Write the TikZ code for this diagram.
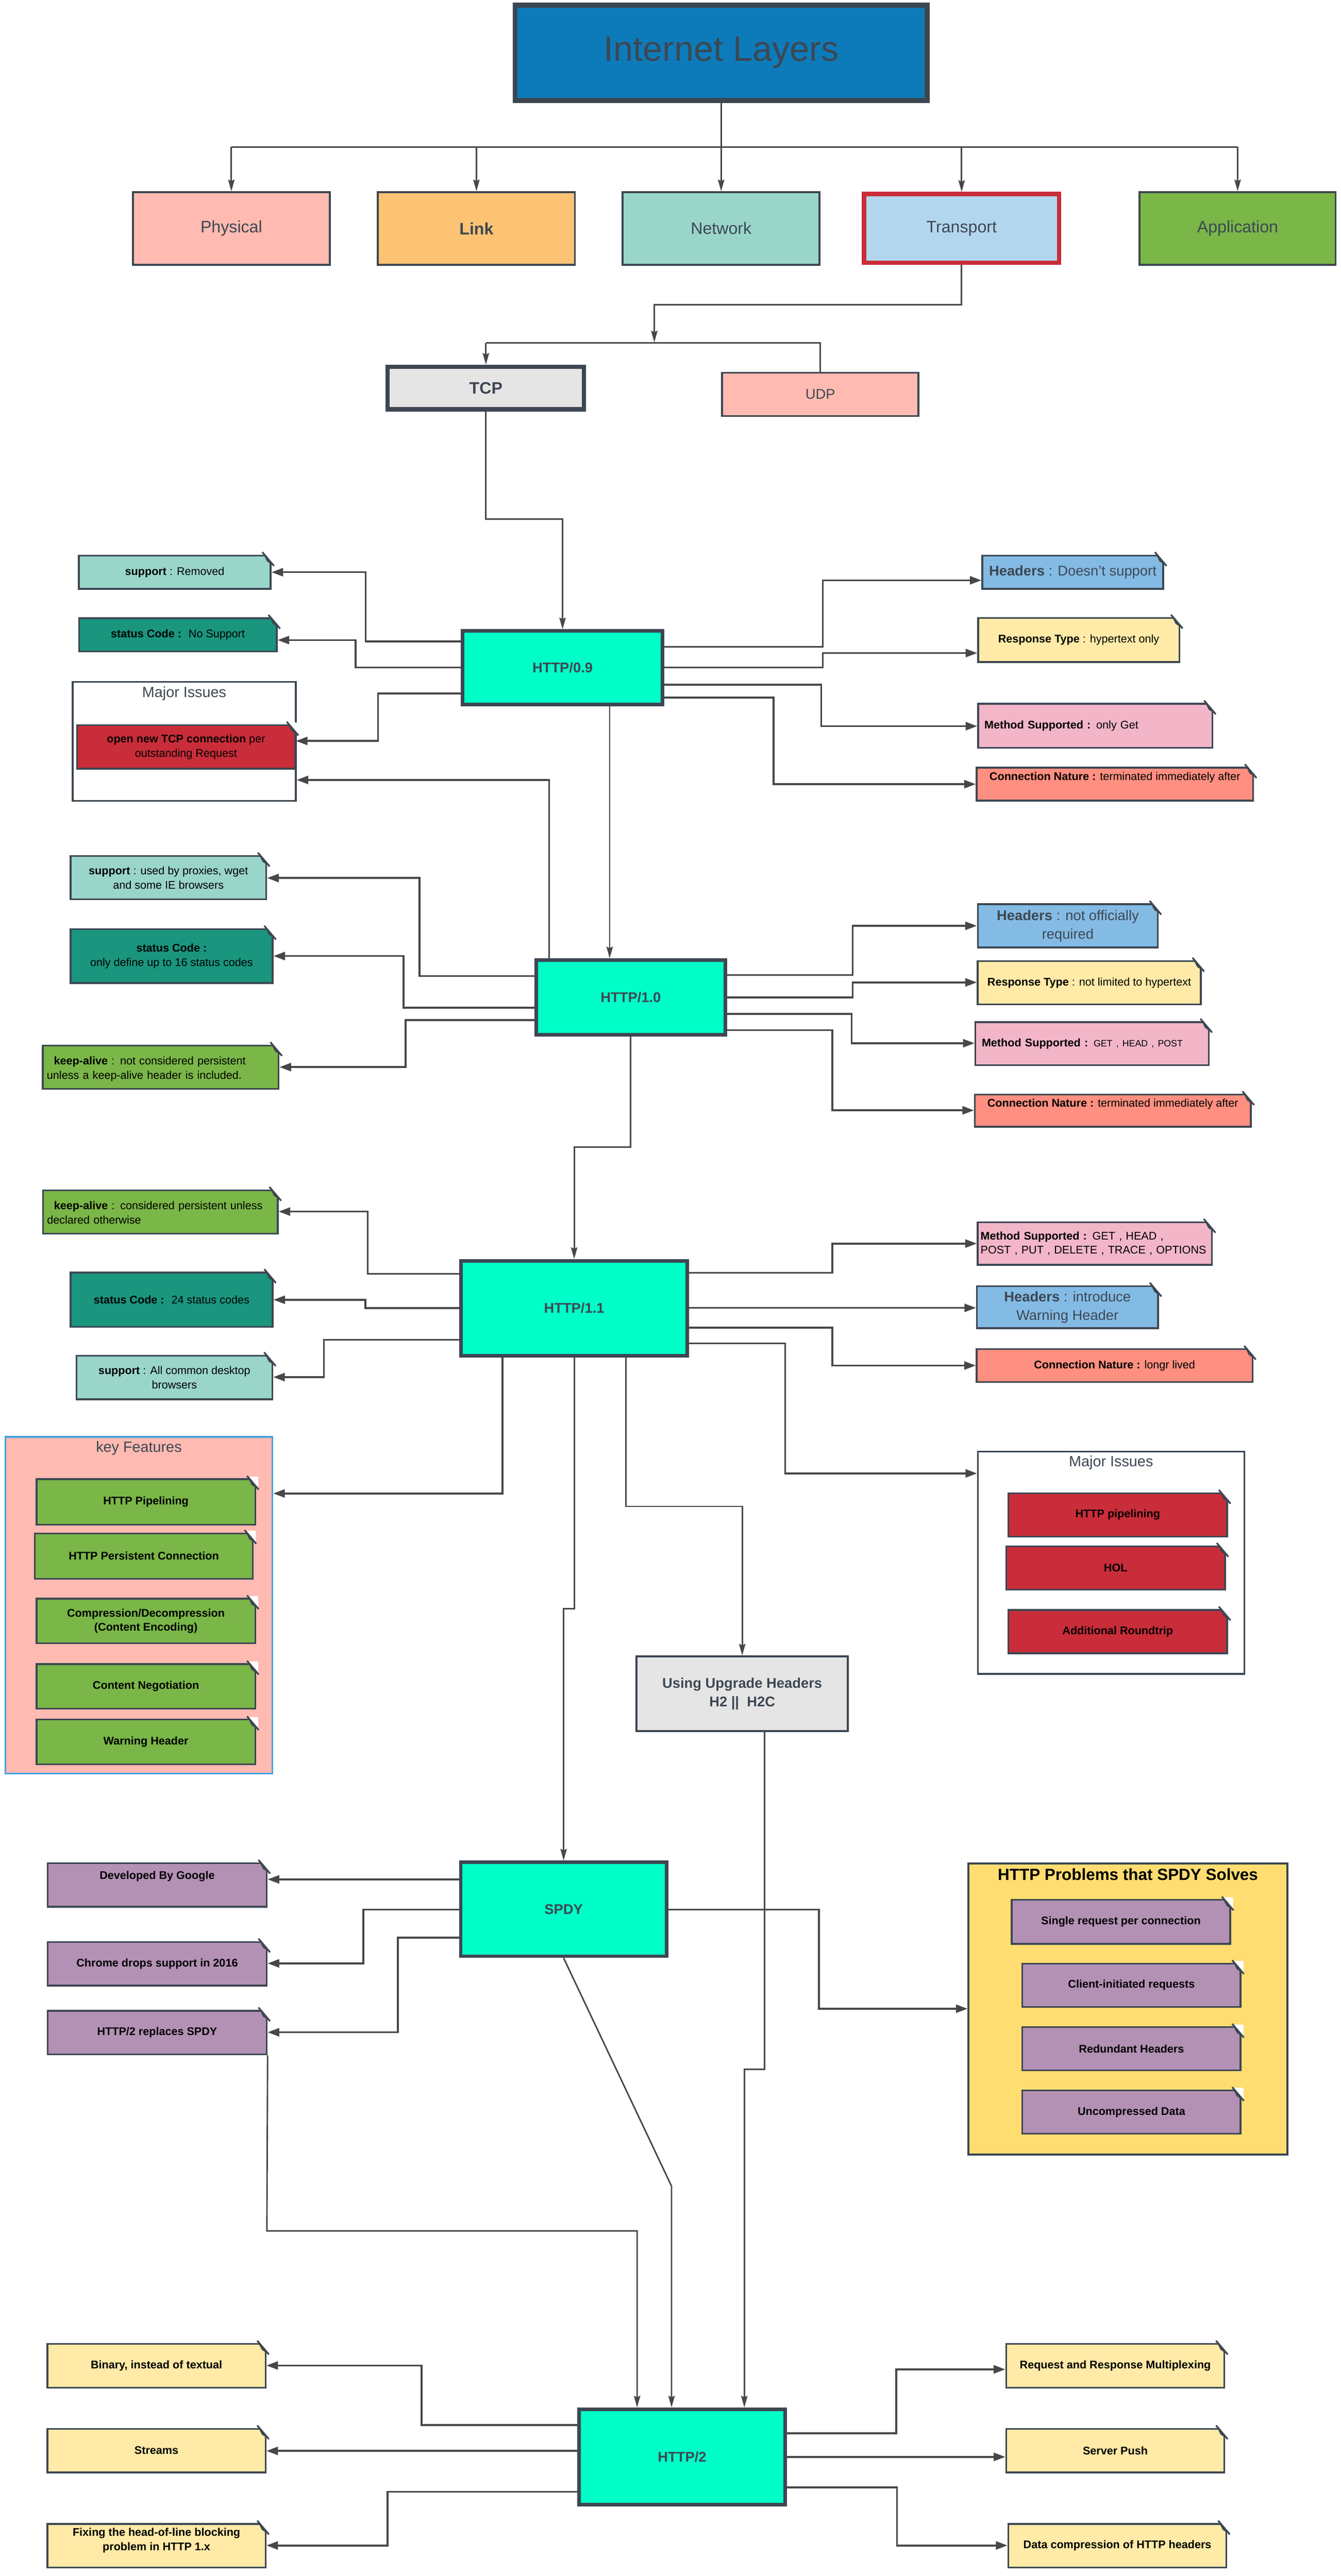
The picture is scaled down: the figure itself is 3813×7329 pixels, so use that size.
\documentclass[tikz,border=0pt]{standalone}
\usepackage{fontspec}
\setmainfont{Liberation Sans}
\usepackage{xcolor}
\usetikzlibrary{arrows.meta}

\definecolor{edgec}{HTML}{3D4752}
\definecolor{wirec}{HTML}{474747}
\definecolor{titlec}{HTML}{0D7BBA}
\definecolor{physc}{HTML}{FFBAB1}
\definecolor{linkc}{HTML}{FDC375}
\definecolor{netc}{HTML}{9AD5CA}
\definecolor{transc}{HTML}{B3D6EF}
\definecolor{redc}{HTML}{C92D39}
\definecolor{greenc}{HTML}{7AB648}
\definecolor{grayc}{HTML}{E5E5E5}
\definecolor{mintc}{HTML}{00FFC8}
\definecolor{tealc}{HTML}{1A957E}
\definecolor{hdrc}{HTML}{83BBE5}
\definecolor{paleyc}{HTML}{FFEAA7}
\definecolor{pinkc}{HTML}{F2B6C8}
\definecolor{salmonc}{HTML}{FF8F80}
\definecolor{kfblue}{HTML}{4AA3DF}
\definecolor{goldc}{HTML}{FFDD71}
\definecolor{purplec}{HTML}{B391B5}

\newcommand\fsz[2]{\fontsize{#1}{#2}\selectfont}
\newcommand\dogear[1]{%
  \fill[white] ([shift={(-26,-5)}]#1.north east) -- ([shift={(6,-5)}]#1.north east) -- ([shift={(6,30)}]#1.north east) -- cycle;
  \fill[edgec] ([shift={(-26,-7)}]#1.north east) -- ([shift={(7,32)}]#1.north east) -- ([shift={(-13,19)}]#1.north east) -- cycle;
  \draw[edgec, line width=1.4pt] ([shift={(-26,-7)}]#1.north east) -- ([shift={(7,32)}]#1.north east);}

\tikzset{>={Triangle[length=3.3mm,width=2.3mm]}}
\tikzset{
  wh/.style 2 args={minimum width=#1cm, minimum height=#2cm},
  box/.style={draw=edgec, line width=1.6pt, text=edgec, font=\fsz{13.4}{16}},
  ver/.style={box, fill=mintc, line width=2.85pt, font=\fsz{11.4}{14}\bfseries},
  note/.style={draw=edgec, line width=1.4pt, text=black, align=center, font=\fsz{9}{11.5}},
  hdr/.style={note, fill=hdrc, text=edgec, font=\fsz{11.4}{15}},
  cont/.style={draw=edgec, line width=1.4pt, text=edgec, font=\fsz{12}{14}, inner ysep=0pt},
  lift/.style={text depth=#1cm},
  wire/.style={draw=wirec, line width=1.5pt, ->},
  flow/.style={draw=wirec, line width=1.2pt},
  flowtip/.style={-{Stealth[length=3.3mm,width=1.8mm,inset=0.4mm]}},
}

\begin{document}
\begin{tikzpicture}[x=0.01cm, y=-0.01cm]

  \fill[white] (0,0) rectangle (3813,7329);
  \useasboundingbox (0,0) rectangle (3813,7329);

  \def\busy{418}

  % layers
  \node[box, fill=titlec, line width=4pt, wh={11.71}{2.71}, font=\fsz{28.5}{34}] (title) at (2051,150) {Internet Layers};
  \node[box, fill=physc, wh={5.6}{2.06}] (phys) at (658,650) {Physical};
  \node[box, fill=linkc, wh={5.6}{2.06}, font=\fsz{13.4}{16}\bfseries] (link) at (1355,650) {Link};
  \node[box, fill=netc, wh={5.6}{2.06}] (netw) at (2051,650) {Network};
  \node[box, draw=redc, fill=transc, line width=3.4pt, wh={5.55}{1.96}] (trans) at (2735,650) {Transport};
  \node[box, fill=greenc, wh={5.57}{2.06}] (app) at (3520,650) {Application};

  \node[box, fill=grayc, line width=3.4pt, wh={5.58}{1.21}, font=\fsz{13.4}{16}\bfseries] (tcp) at (1382,1104) {TCP};
  \node[box, fill=physc, wh={5.58}{1.23}, font=\fsz{11.4}{14}] (udp) at (2333,1122) {UDP};

  \draw[flow] (title.south) -- (title.south |- 0,\busy);
  \draw[flow] (phys.north |- 0,\busy) -- (app.north |- 0,\busy);
  \foreach \n in {phys,link,netw,trans,app}
    \draw[flow,flowtip] (\n.north |- 0,\busy) -- (\n.north);
  \draw[flow,flowtip] (trans.south) -- (2735,867) -| (1861,974);
  \draw[flow] (tcp.north |- 0,976) -| (udp.north);
  \draw[flow,flowtip] (tcp.north |- 0,976) -- (tcp.north);

  % HTTP/0.9
  \node[ver, wh={5.69}{2.09}] (h09) at (1600,1900) {HTTP/0.9};
  \draw[flow,flowtip] (tcp.south) -- (tcp.south |- 0,1477) -| (h09.north);

  \node[note, fill=netc, wh={5.45}{0.95}] (sup09) at (497,1628) {\textbf{support} : Removed};
  \node[note, fill=tealc, wh={5.62}{0.94}] (st09) at (506,1806) {\textbf{status Code :} \ No Support};
  \node[cont, fill=white, wh={6.34}{3.38}, lift=2.8] (mi09) at (524,2109) {Major Issues};
  \node[note, fill=redc, wh={6.2}{1.24}] (tcpiss) at (529,2125) {\textbf{open new TCP connection} per\\outstanding Request};
  \node[hdr, wh={5.14}{0.95}] (hd09) at (3051,1628) {\textbf{Headers} : Doesn't support};
  \node[note, fill=paleyc, wh={5.72}{1.25}] (rt09) at (3068,1821) {\textbf{Response Type} : hypertext only};
  \node[note, fill=pinkc, wh={6.66}{1.25}, align=left, text width=6.3cm] (ms09) at (3115,2065) {\textbf{Method Supported :} only Get};
  \node[note, fill=salmonc, wh={7.86}{0.94}, lift=0.45] (cn09) at (3171,2231) {\textbf{Connection Nature :} terminated immediately after};

  \draw[wire] (h09.west |- 0,1825) -| (1040,1628) -- (sup09.east |- 0,1628);
  \draw[wire] (h09.west |- 0,1899) -| (1011,1821) -- (st09.east |- 0,1821);
  \draw[wire] (h09.west |- 0,1973) -| (1075,2108) -- (tcpiss.east |- 0,2108);
  \draw[wire] (h09.east |- 0,1840) -| (2340,1651) -- (hd09.west |- 0,1651);
  \draw[wire] (h09.east |- 0,1899) -| (2340,1858) -- (rt09.west |- 0,1858);
  \draw[wire] (h09.east |- 0,1948) -| (2336,2066) -- (ms09.west |- 0,2066);
  \draw[wire] (h09.east |- 0,1985) -| (2200,2231) -- (cn09.west |- 0,2231);

  % HTTP/1.0
  \node[ver, wh={5.37}{2.13}] (h10) at (1794,2838) {HTTP/1.0};
  \draw[flow,flowtip] (h09.south -| 1734,0) -- (h10.north -| 1734,0);
  \draw[wire] (h10.north -| 1562,0) -- (1562,2219) -- (mi09.east |- 0,2219);

  \node[note, fill=netc, wh={5.56}{1.23}] (sup10) at (479,2497) {\textbf{support} : used by proxies, wget\\and some IE browsers};
  \node[note, fill=tealc, wh={5.74}{1.53}] (st10) at (488,2720) {\textbf{status Code :}\\only define up to 16 status codes};
  \node[note, fill=greenc, wh={6.67}{1.23}, align=left, text width=6.47cm, lift=0.37] (ka10) at (457,3036) {\hspace*{0.2cm}\textbf{keep-alive} : not considered persistent\\unless a keep-alive header is included.};
  \node[hdr, wh={5.12}{1.23}] (hd10) at (3037,2634) {\textbf{Headers} : not officially\\required};
  \node[note, fill=paleyc, wh={6.34}{1.23}] (rt10) at (3098,2796) {\textbf{Response Type} : not limited to hypertext};
  \node[note, fill=pinkc, wh={6.63}{1.22}, align=left, text width=6.27cm] (ms10) at (3106,2969) {\textbf{Method Supported :} {\fsz{7.4}{9}GET , HEAD , POST}};
  \node[note, fill=salmonc, wh={7.84}{0.91}, lift=0.45] (cn10) at (3165,3160) {\textbf{Connection Nature :} terminated immediately after};

  \draw[wire] (h10.west |- 0,2777) -| (1193,2498) -- (sup10.east |- 0,2498);
  \draw[wire] (h10.west |- 0,2867) -| (1148,2720) -- (st10.east |- 0,2720);
  \draw[wire] (h10.west |- 0,2902) -| (1154,3036) -- (ka10.east |- 0,3036);
  \draw[wire] (h10.east |- 0,2774) -| (2425,2634) -- (hd10.west |- 0,2634);
  \draw[wire] (h10.east |- 0,2838) -| (2425,2795) -- (rt10.west |- 0,2795);
  \draw[wire] (h10.east |- 0,2885) -| (2422,2968) -- (ms10.west |- 0,2968);
  \draw[wire] (h10.east |- 0,2931) -| (2367,3159) -- (cn10.west |- 0,3159);

  % HTTP/1.1
  \node[ver, wh={6.44}{2.7}] (h11) at (1633,3722) {HTTP/1.1};
  \draw[flow,flowtip] (h10.south) -- (1794,3264) -| (h11.north);

  \node[note, fill=greenc, wh={6.64}{1.23}, align=left, text width=6.44cm, lift=0.37] (ka11) at (456,3448) {\hspace*{0.2cm}\textbf{keep-alive} : considered persistent unless\\declared otherwise};
  \node[note, fill=tealc, wh={5.74}{1.55}] (st11) at (488,3698) {\textbf{status Code :} \ 24 status codes};
  \node[note, fill=netc, wh={5.57}{1.24}] (sup11) at (496,3919) {\textbf{support} : All common desktop\\browsers};
  \node[note, fill=pinkc, wh={6.66}{1.21}, align=left, text width=6.5cm, inner xsep=0.08cm] (ms11) at (3114,3538) {\textbf{Method Supported :} GET , HEAD ,\\POST , PUT , DELETE , TRACE , OPTIONS};
  \node[hdr, wh={5.15}{1.2}] (hd11) at (3036,3719) {\textbf{Headers} : introduce\\Warning Header};
  \node[note, fill=salmonc, wh={7.84}{0.93}] (cn11) at (3170,3885) {\textbf{Connection Nature :} longr lived};

  \node[cont, fill=white, wh={7.57}{6.32}, lift=5.78] (mi11) at (3160,4446) {Major Issues};
  \node[note, fill=redc, wh={6.22}{1.23}, font=\fsz{9}{11.5}\bfseries] (hp11) at (3179,4310) {HTTP pipelining};
  \node[note, fill=redc, wh={6.22}{1.23}, font=\fsz{9}{11.5}\bfseries] (hol) at (3173,4461) {HOL};
  \node[note, fill=redc, wh={6.22}{1.23}, font=\fsz{9}{11.5}\bfseries] (rtt) at (3179,4642) {Additional Roundtrip};

  \draw[wire] (h11.west |- 0,3624) -| (1046,3447) -- (ka11.east |- 0,3447);
  \draw[wire] (h11.west |- 0,3722) -| (1039,3698) -- (st11.east |- 0,3698);
  \draw[wire] (h11.west |- 0,3812) -| (921,3918) -- (sup11.east |- 0,3918);
  \draw[wire] (h11.east |- 0,3621) -| (2367,3538) -- (ms11.west |- 0,3538);
  \draw[wire] (h11.east |- 0,3721) -- (hd11.west |- 0,3721);
  \draw[wire] (h11.east |- 0,3777) -| (2367,3885) -- (cn11.west |- 0,3885);
  \draw[wire] (h11.east |- 0,3822) -| (2233,4192) -- (mi11.west |- 0,4192);

  % key features
  \node[cont, draw=kfblue, fill=physc, wh={7.59}{9.57}, lift=9.0] (kf) at (395,4567) {key Features};
  \node[note, fill=greenc, wh={6.22}{1.29}, font=\fsz{9}{11.5}\bfseries] (kf1) at (415,4273) {HTTP Pipelining};
  \node[note, fill=greenc, wh={6.2}{1.29}, font=\fsz{9}{11.5}\bfseries] (kf2) at (409,4427) {HTTP Persistent Connection};
  \node[note, fill=greenc, wh={6.22}{1.27}, font=\fsz{9}{11.5}\bfseries] (kf3) at (415,4612) {Compression/Decompression\\(Content Encoding)};
  \node[note, fill=greenc, wh={6.22}{1.27}, font=\fsz{9}{11.5}\bfseries] (kf4) at (415,4798) {Content Negotiation};
  \node[note, fill=greenc, wh={6.22}{1.27}, font=\fsz{9}{11.5}\bfseries] (kf5) at (415,4956) {Warning Header};

  \node[box, fill=grayc, wh={6.0}{2.12}, font=\fsz{11.4}{15}\bfseries, align=center] (upg) at (2111,4819) {Using Upgrade Headers\\H2 ||\ \ H2C};

  \draw[wire] (h11.south -| 1429,0) -- (1429,4249) -- (kf.east |- 0,4249);
  \draw[flow,flowtip] (h11.south -| 1780,0) -- (1780,4286) -| (upg.north);

  % SPDY
  \node[ver, wh={5.85}{2.67}] (spdy) at (1603,5432) {SPDY};
  \draw[flow,flowtip] (h11.south) -- (1633,4577) -- (1603,4577) -- (spdy.north);

  \node[note, fill=purplec, wh={6.23}{1.24}, font=\fsz{9}{11.5}\bfseries, lift=0.57] (dev) at (447,5363) {Developed By Google};
  \node[note, fill=purplec, wh={6.23}{1.24}, font=\fsz{9}{11.5}\bfseries] (chr) at (447,5587) {Chrome drops support in 2016};
  \node[note, fill=purplec, wh={6.23}{1.24}, font=\fsz{9}{11.5}\bfseries] (rep) at (447,5783) {HTTP/2 replaces SPDY};

  \node[cont, fill=goldc, line width=1.7pt, wh={9.06}{8.28}, text=black, font=\fsz{13.1}{16}\bfseries, lift=7.66] (prob) at (3208,5716) {HTTP Problems that SPDY Solves};
  \node[note, fill=purplec, wh={6.21}{1.25}, font=\fsz{9}{11.5}\bfseries] (p1) at (3188,5468) {Single request per connection};
  \node[note, fill=purplec, wh={6.2}{1.23}, font=\fsz{9}{11.5}\bfseries] (p2) at (3218,5648) {Client-initiated requests};
  \node[note, fill=purplec, wh={6.2}{1.23}, font=\fsz{9}{11.5}\bfseries] (p3) at (3218,5829) {Redundant Headers};
  \node[note, fill=purplec, wh={6.2}{1.23}, font=\fsz{9}{11.5}\bfseries] (p4) at (3218,6009) {Uncompressed Data};

  \draw[wire] (spdy.west |- 0,5347) -- (dev.east |- 0,5347);
  \draw[wire] (spdy.west |- 0,5433) -| (1033,5586) -- (chr.east |- 0,5586);
  \draw[wire] (spdy.west |- 0,5513) -| (1132,5782) -- (rep.east |- 0,5782);
  \draw[wire] (spdy.east |- 0,5433) -| (2329,5715) -- (prob.west |- 0,5715);

  % HTTP/2
  \node[ver, wh={5.86}{2.71}] (h2) at (1940,6990) {HTTP/2};
  \draw[flow,flowtip] (rep.south east) -- (759,6347) -| (h2.north -| 1812,0);
  \draw[flow,flowtip] (spdy.south) -- (1910,6220) -- (h2.north -| 1910,0);
  \draw[flow,flowtip] (upg.south -| 2174,0) -- (2174,5887) -| (h2.north -| 2117,0);

  \node[note, fill=paleyc, wh={6.2}{1.24}, font=\fsz{9}{11.5}\bfseries] (bin) at (445,6731) {Binary, instead of textual};
  \node[note, fill=paleyc, wh={6.2}{1.24}, font=\fsz{9}{11.5}\bfseries] (str) at (445,6972) {Streams};
  \node[note, fill=paleyc, wh={6.2}{1.24}, font=\fsz{9}{11.5}\bfseries, lift=0.37] (fix) at (445,7243) {Fixing the head-of-line blocking\\problem in HTTP 1.x};
  \node[note, fill=paleyc, wh={6.2}{1.24}, font=\fsz{9}{11.5}\bfseries] (mux) at (3172,6731) {Request and Response Multiplexing};
  \node[note, fill=paleyc, wh={6.2}{1.24}, font=\fsz{9}{11.5}\bfseries] (push) at (3172,6972) {Server Push};
  \node[note, fill=paleyc, wh={6.2}{1.24}, font=\fsz{9}{11.5}\bfseries] (hpack) at (3178,7243) {Data compression of HTTP headers};

  \draw[wire] (h2.west |- 0,6899) -| (1199,6730) -- (bin.east |- 0,6730);
  \draw[wire] (h2.west |- 0,6973) -- (str.east |- 0,6973);
  \draw[wire] (h2.west |- 0,7089) -| (1102,7242) -- (fix.east |- 0,7242);
  \draw[wire] (h2.east |- 0,6923) -| (2549,6741) -- (mux.west |- 0,6741);
  \draw[wire] (h2.east |- 0,6990) -- (push.west |- 0,6990);
  \draw[wire] (h2.east |- 0,7077) -| (2551,7242) -- (hpack.west |- 0,7242);

  % folded corners
  \foreach \n in {sup09,st09,tcpiss,hd09,rt09,ms09,cn09,sup10,st10,ka10,hd10,rt10,ms10,cn10,
                  ka11,st11,sup11,ms11,hd11,cn11,hp11,hol,rtt,kf1,kf2,kf3,kf4,kf5,
                  dev,chr,rep,p1,p2,p3,p4,bin,str,fix,mux,push,hpack}
    \dogear{\n};

\end{tikzpicture}
\end{document}
